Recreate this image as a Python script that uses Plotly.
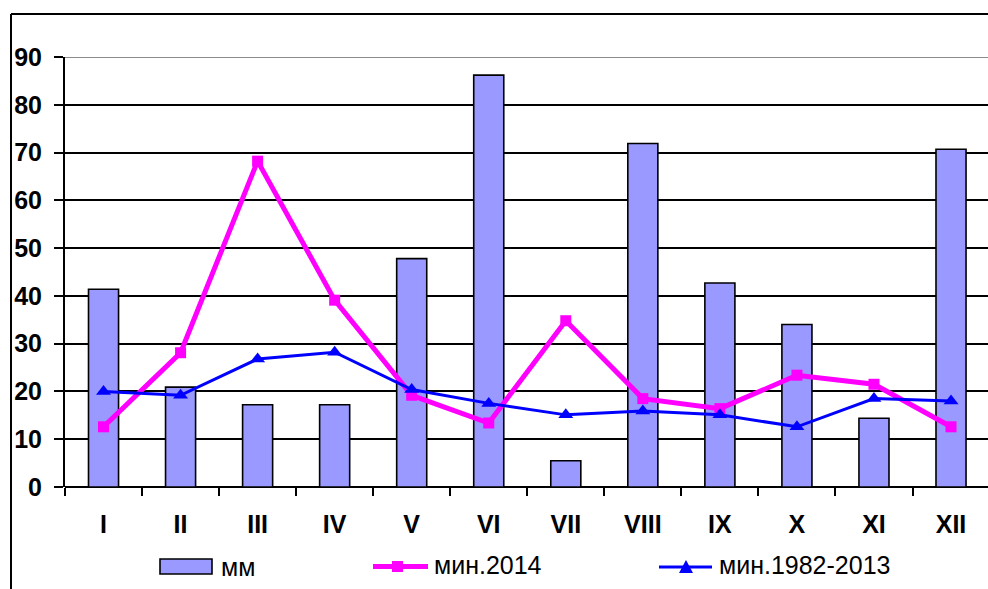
import plotly.graph_objects as go

# Monthly data
months = ["I", "II", "III", "IV", "V", "VI", "VII", "VIII", "IX", "X", "XI", "XII"]
mm = [41.4, 20.9, 17.2, 17.2, 47.8, 86.2, 5.5, 71.9, 42.7, 34.0, 14.4, 70.7]
min_2014 = [12.6, 28.1, 68.2, 39.1, 19.2, 13.4, 34.8, 18.5, 16.4, 23.4, 21.5, 12.6]
min_1982_2013 = [20.0, 19.2, 26.8, 28.2, 20.4, 17.5, 15.1, 15.9, 15.1, 12.6, 18.5, 18.0]
y_ticks = [0, 10, 20, 30, 40, 50, 60, 70, 80, 90]

W, H = 988, 589
L, R, T, B = 65, 0, 57, 102
PW, PH = W - L - R, H - T - B

BAR_COLOR = "#9999FF"
PINK = "#FF00FF"
BLUE = "#0000FF"
FONT = "Liberation Sans, Arial, sans-serif"


def px(x):
    return (x - L) / PW


def py(y):
    return (H - B - y) / PH


fig = go.Figure()
fig.add_trace(go.Bar(
    x=months, y=mm, name="мм", width=0.39,
    marker=dict(color=BAR_COLOR, line=dict(color="black", width=1.6)),
))
fig.add_trace(go.Scatter(
    x=months, y=min_2014, name="мин.2014", mode="lines+markers",
    line=dict(color=PINK, width=5),
    marker=dict(symbol="square", size=11, color=PINK),
))
fig.add_trace(go.Scatter(
    x=months, y=min_1982_2013, name="мин.1982-2013", mode="lines+markers",
    line=dict(color=BLUE, width=3),
    marker=dict(symbol="triangle-up", size=13, color=BLUE),
))

shapes = [
    # outer chart frame
    dict(type="line", xref="paper", yref="paper", x0=px(11), x1=px(11), y0=py(14), y1=py(620),
         line=dict(color="black", width=2)),
    dict(type="line", xref="paper", yref="paper", x0=px(11), x1=px(1000), y0=py(14), y1=py(14),
         line=dict(color="black", width=2)),
    # top edge of plot area
    dict(type="line", xref="paper", yref="y", x0=0, x1=1, y0=90, y1=90,
         line=dict(color="#8c8c8c", width=2), layer="above"),
    # legend swatches
    dict(type="rect", xref="paper", yref="paper", x0=px(160), x1=px(212), y0=py(574), y1=py(559),
         fillcolor=BAR_COLOR, line=dict(color="black", width=1.6)),
    dict(type="line", xref="paper", yref="paper", x0=px(373), x1=px(428), y0=py(566.5), y1=py(566.5),
         line=dict(color=PINK, width=5)),
    dict(type="rect", xref="paper", yref="paper", x0=px(392), x1=px(403), y0=py(572), y1=py(561),
         fillcolor=PINK, line=dict(color=PINK, width=0)),
    dict(type="line", xref="paper", yref="paper", x0=px(659), x1=px(712), y0=py(567), y1=py(567),
         line=dict(color=BLUE, width=3)),
    dict(type="path", xref="paper", yref="paper",
         path=f"M {px(679)},{py(573)} L {px(693)},{py(573)} L {px(686)},{py(560)} Z",
         fillcolor=BLUE, line=dict(color=BLUE, width=0)),
]

annotations = [
    dict(text="мм", xref="paper", yref="paper", x=px(219), y=py(567), xanchor="left", yanchor="middle",
         showarrow=False, font=dict(family=FONT, size=25, color="black")),
    dict(text="мин.2014", xref="paper", yref="paper", x=px(432), y=py(565), xanchor="left", yanchor="middle",
         showarrow=False, font=dict(family=FONT, size=25, color="black")),
    dict(text="мин.1982-2013", xref="paper", yref="paper", x=px(717), y=py(565), xanchor="left",
         yanchor="middle", showarrow=False, font=dict(family=FONT, size=25, color="black")),
]

fig.update_layout(
    width=W, height=H,
    margin=dict(l=L, r=R, t=T, b=B, pad=0),
    paper_bgcolor="white", plot_bgcolor="white",
    showlegend=False,
    shapes=shapes,
    annotations=annotations,
    xaxis=dict(
        type="category", range=[-0.5, 11.48],
        tickson="boundaries", ticks="outside", ticklen=8, tickwidth=2, tickcolor="black",
        showgrid=False, showline=False, zeroline=False,
        tickfont=dict(family=FONT, size=25, color="black", weight="bold"),
        ticklabelstandoff=20,
    ),
    yaxis=dict(
        range=[0, 90], tickvals=y_ticks,
        ticks="outside", ticklen=9, tickwidth=2, tickcolor="black",
        showgrid=True, gridcolor="black", gridwidth=2,
        showline=True, linecolor="black", linewidth=2,
        zeroline=True, zerolinecolor="black", zerolinewidth=2,
        tickfont=dict(family=FONT, size=25, color="black", weight="bold"),
        ticklabelstandoff=7,
    ),
)

fig.write_html("out.html")
